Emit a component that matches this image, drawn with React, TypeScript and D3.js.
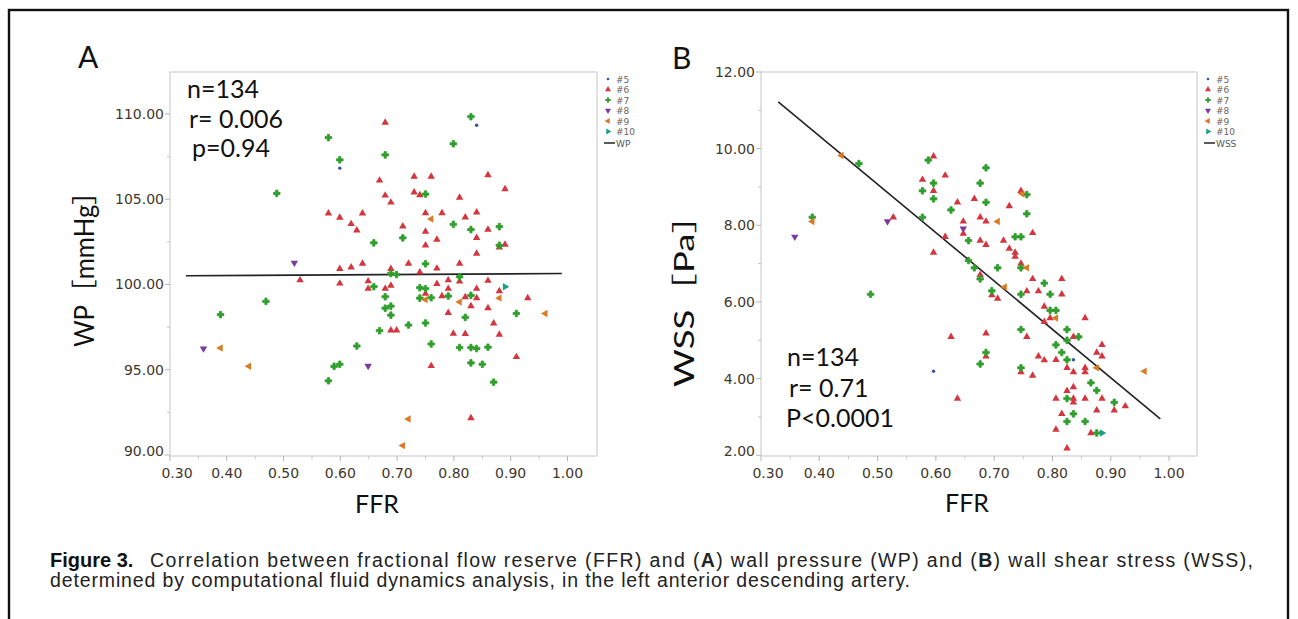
import React from "react";
import * as d3 from "d3";

type Pt = [number, number];

// axis ticks
const ffrTicks = [0.3, 0.4, 0.5, 0.6, 0.7, 0.8, 0.9, 1.0];
const ffrMinor = [0.35, 0.45, 0.55, 0.65, 0.75, 0.85, 0.95];
const wpTicks = [90, 95, 100, 105, 110];
const wpMinor = [92.5, 97.5, 102.5, 107.5];
const wssTicks = [2, 4, 6, 8, 10, 12];
const wssMinor = [3, 5, 7, 9, 11];

const groups = ["#5", "#6", "#7", "#8", "#9", "#10"];

// panel A: FFR vs wall pressure
const wp5: Pt[] = [[0.84, 109.34], [0.599, 106.82]];
const wp6: Pt[] = [
  [0.679, 109.49], [0.669, 106.1], [0.73, 106.33], [0.76, 106.33], [0.86, 106.41], [0.89, 105.59],
  [0.679, 105.22], [0.73, 105.4], [0.74, 105.24], [0.81, 105.09], [0.689, 104.81], [0.579, 104.17],
  [0.599, 103.92], [0.639, 104.17], [0.75, 104.19], [0.779, 104.19], [0.82, 103.94], [0.84, 104.23],
  [0.619, 103.55], [0.629, 103.18], [0.71, 103.41], [0.86, 103.22], [0.75, 103.1], [0.77, 102.63],
  [0.84, 102.73], [0.75, 102.3], [0.89, 102.34], [0.88, 102.18], [0.84, 101.81],
  [0.599, 100.92], [0.619, 101.01], [0.639, 101.23], [0.689, 100.92], [0.72, 101.23], [0.77, 100.94],
  [0.81, 101.23], [0.74, 100.72], [0.529, 100.25], [0.599, 100.06], [0.649, 100.19], [0.689, 99.94],
  [0.77, 100.04], [0.79, 100.25], [0.81, 100.18], [0.86, 100.22], [0.649, 99.75], [0.679, 99.75],
  [0.75, 99.46], [0.79, 99.75], [0.84, 99.75], [0.88, 99.61], [0.779, 99.32], [0.82, 99.26],
  [0.84, 99.2], [0.93, 99.2], [0.83, 98.73], [0.86, 98.61], [0.79, 98.34], [0.87, 97.72],
  [0.689, 97.31], [0.699, 97.31], [0.799, 97.12], [0.82, 97.1], [0.88, 97.06], [0.91, 95.75],
  [0.76, 95.22], [0.83, 92.16],
];
const wp7: Pt[] = [
  [0.83, 109.84], [0.579, 108.61], [0.799, 108.25], [0.599, 107.31], [0.679, 107.6], [0.488, 105.34],
  [0.75, 105.3], [0.799, 103.53], [0.83, 103.22], [0.88, 103.39], [0.71, 102.73], [0.659, 102.44],
  [0.88, 102.3], [0.75, 101.21], [0.689, 100.64], [0.699, 100.58], [0.81, 100.45], [0.659, 99.87],
  [0.74, 99.81], [0.75, 99.75], [0.679, 99.28], [0.74, 99.2], [0.76, 99.22], [0.79, 99.32],
  [0.83, 99.36], [0.469, 99.01], [0.679, 98.61], [0.689, 98.73], [0.389, 98.23], [0.689, 98.2],
  [0.91, 98.3], [0.82, 98.07], [0.75, 97.74], [0.72, 97.62], [0.669, 97.29], [0.76, 96.51],
  [0.629, 96.39], [0.81, 96.3], [0.83, 96.3], [0.84, 96.24], [0.86, 96.32], [0.589, 95.2],
  [0.599, 95.32], [0.83, 95.4], [0.85, 95.32], [0.579, 94.35], [0.87, 94.27],
];
const wp8: Pt[] = [[0.519, 101.27], [0.359, 96.24], [0.649, 95.22]];
const wp9: Pt[] = [
  [0.76, 103.84], [0.75, 99.11], [0.88, 99.2], [0.81, 98.97], [0.961, 98.3], [0.389, 96.27],
  [0.439, 95.2], [0.72, 92.11], [0.71, 90.55],
];
const wp10: Pt[] = [[0.89, 99.87]];
const wpFit: Pt[] = [[0.328, 100.51], [0.99, 100.64]];

// panel B: FFR vs wall shear stress
const wss5: Pt[] = [[0.836, 4.49], [0.596, 4.19]];
const wss6: Pt[] = [
  [0.596, 9.8], [0.616, 9.3], [0.577, 9.19], [0.596, 8.9], [0.746, 8.9], [0.637, 8.6], [0.666, 8.69],
  [0.726, 8.5], [0.527, 8.21], [0.647, 8.1], [0.647, 7.78], [0.676, 8.21], [0.686, 8.1], [0.616, 7.7],
  [0.676, 7.6], [0.686, 7.49], [0.716, 7.6], [0.766, 7.8], [0.726, 7.39], [0.736, 7.29], [0.736, 7.18],
  [0.596, 7.29], [0.746, 7.0], [0.676, 6.71], [0.766, 6.6], [0.816, 6.6], [0.756, 6.28], [0.776, 6.28],
  [0.816, 6.2], [0.696, 6.18], [0.706, 6.09], [0.786, 5.88], [0.796, 5.58], [0.856, 5.58], [0.786, 5.48],
  [0.626, 5.09], [0.686, 5.18], [0.756, 5.09], [0.836, 5.09], [0.885, 4.88], [0.686, 4.58], [0.876, 4.68],
  [0.885, 4.58], [0.776, 4.58], [0.786, 4.48], [0.806, 4.49], [0.825, 4.28], [0.856, 4.28], [0.746, 4.17],
  [0.766, 4.08], [0.836, 4.17], [0.856, 4.17], [0.836, 3.78], [0.825, 3.68], [0.637, 3.48], [0.806, 3.48],
  [0.836, 3.48], [0.836, 3.38], [0.856, 3.48], [0.885, 3.48], [0.925, 3.28], [0.906, 3.17], [0.876, 3.17],
  [0.816, 3.08], [0.806, 2.67], [0.866, 2.58], [0.825, 2.18],
];
const wss7: Pt[] = [
  [0.468, 9.61], [0.587, 9.7], [0.686, 9.5], [0.596, 9.1], [0.676, 9.1], [0.577, 8.9], [0.756, 8.8],
  [0.596, 8.69], [0.686, 8.6], [0.626, 8.4], [0.756, 8.3], [0.388, 8.21], [0.577, 8.21], [0.656, 7.6],
  [0.736, 7.7], [0.746, 7.7], [0.656, 7.08], [0.666, 6.89], [0.706, 6.89], [0.746, 6.89], [0.676, 6.6],
  [0.786, 6.49], [0.696, 6.29], [0.796, 6.2], [0.488, 6.2], [0.746, 6.2], [0.796, 5.78], [0.806, 5.78],
  [0.825, 5.28], [0.746, 5.28], [0.845, 5.09], [0.825, 5.0], [0.806, 4.88], [0.686, 4.68], [0.816, 4.68],
  [0.825, 4.49], [0.676, 4.38], [0.746, 4.28], [0.866, 3.89], [0.876, 3.69], [0.825, 3.48], [0.906, 3.38],
  [0.836, 3.08], [0.825, 2.88], [0.856, 2.88], [0.876, 2.58],
];
const wss8: Pt[] = [[0.517, 8.1], [0.647, 7.91], [0.358, 7.7]];
const wss9: Pt[] = [
  [0.438, 9.82], [0.748, 8.82], [0.388, 8.1], [0.706, 8.1], [0.756, 6.89], [0.718, 6.39], [0.806, 5.58],
  [0.876, 4.28], [0.958, 4.19],
];
const wss10: Pt[] = [[0.885, 2.58]];
const wssFit: Pt[] = [[0.3296, 11.22], [0.985, 2.95]];

const colors: Record<string, string> = {
  "#5": "#3553a8",
  "#6": "#d3363e",
  "#7": "#2f9e2c",
  "#8": "#7d3a9c",
  "#9": "#dc7a24",
  "#10": "#1b9e8a",
};

const tri = d3.symbol().type(d3.symbolTriangle).size(24)() as string;
const cross = d3.symbol().type(d3.symbolCross).size(24)() as string;
const dot = d3.symbol().type(d3.symbolCircle).size(9)() as string;
const shapes: Record<string, { d: string; rot: number; sw: number }> = {
  "#5": { d: dot, rot: 0, sw: 0 },
  "#6": { d: tri, rot: 0, sw: 0 },
  "#7": { d: cross, rot: 0, sw: 0.8 },
  "#8": { d: tri, rot: 180, sw: 0 },
  "#9": { d: tri, rot: -90, sw: 0 },
  "#10": { d: tri, rot: 90, sw: 0 },
};

const tickFont = "'DejaVu Sans', Verdana, sans-serif";
const tickColor = "#3f372c";
const labelFont = "Lato, 'Noto Sans CJK JP', sans-serif";

type PanelProps = {
  left: number;
  right: number;
  top: number;
  bottom: number;
  xDomain: [number, number];
  yDomain: [number, number];
  yTicks: number[];
  yMinor: number[];
  series: Pt[][];
  fit: Pt[];
  fitName: string;
};

function Panel(p: PanelProps) {
  const x = d3.scaleLinear().domain(p.xDomain).range([p.left, p.right]);
  const y = d3.scaleLinear().domain(p.yDomain).range([p.bottom, p.top]);
  const line = d3.line<Pt>().x((d) => x(d[0])).y((d) => y(d[1]));
  const legX = p.right + 11;
  const legY0 = p.top + 7;
  return (
    <g>
      <rect x={p.left} y={p.top} width={p.right - p.left} height={p.bottom - p.top} fill="#fff" stroke="#cfcfcf" strokeWidth={1.2} />
      {p.yTicks.map((t, i) => (
        <g key={"y" + t}>
          <line x1={p.left - 5} x2={p.left} y1={y(t)} y2={y(t)} stroke="#b5b5b5" />
          <text x={p.left - 6} y={y(t) + (i === 0 ? 1 : 5)} textAnchor="end" fontFamily={tickFont} fontSize={14} fill={tickColor}>
            {t.toFixed(2)}
          </text>
        </g>
      ))}
      {p.yMinor.map((t) => (
        <line key={"ym" + t} x1={p.left - 3} x2={p.left} y1={y(t)} y2={y(t)} stroke="#c4c4c4" />
      ))}
      {ffrTicks.map((t, i) => (
        <g key={"x" + t}>
          <line x1={x(t)} x2={x(t)} y1={p.bottom} y2={p.bottom + 5} stroke="#b5b5b5" />
          <text x={x(t) + (i === 0 ? 7 : 0)} y={p.bottom + 22} textAnchor="middle" fontFamily={tickFont} fontSize={14} fill={tickColor}>
            {t.toFixed(2)}
          </text>
        </g>
      ))}
      {ffrMinor.map((t) => (
        <line key={"xm" + t} x1={x(t)} x2={x(t)} y1={p.bottom} y2={p.bottom + 3} stroke="#c4c4c4" />
      ))}
      <path d={line(p.fit) as string} stroke="#222" strokeWidth={1.6} fill="none" />
      {p.series.map((pts, gi) =>
        pts.map((d, i) => {
          const s = shapes[groups[gi]];
          return (
            <path
              key={gi + "-" + i}
              d={s.d}
              transform={`translate(${x(d[0])},${y(d[1])}) rotate(${s.rot})`}
              fill={colors[groups[gi]]}
              stroke={colors[groups[gi]]}
              strokeWidth={s.sw}
              strokeLinejoin="round"
            />
          );
        })
      )}
      {groups.map((g, i) => (
        <g key={"leg" + g}>
          <path d={shapes[g].d} transform={`translate(${legX},${legY0 + i * 10.5}) rotate(${shapes[g].rot}) scale(0.8)`} fill={colors[g]} />
          <text x={legX + 8} y={legY0 + i * 10.5 + 3.5} fontFamily={tickFont} fontSize={9} fill="#666">
            {g}
          </text>
        </g>
      ))}
      <line x1={legX - 4} x2={legX + 7} y1={legY0 + 64} y2={legY0 + 64} stroke="#333" strokeWidth={1.6} />
      <text x={legX + 8} y={legY0 + 67.5} fontFamily={tickFont} fontSize={9} fill="#555">
        {p.fitName}
      </text>
    </g>
  );
}

export default function App() {
  return (
    <svg width={1298} height={619} style={{ position: "absolute", left: 0, top: 0, background: "#fff" }}>
      <rect x={0} y={0} width={1298} height={619} fill="#fff" />
      <rect x={9} y={10} width={1279} height={640} fill="none" stroke="#111" strokeWidth={2.4} />

      <Panel left={170} right={597} top={72} bottom={456} xDomain={[0.3, 1.052]} yDomain={[89.94, 112.46]}
        yTicks={wpTicks} yMinor={wpMinor} series={[wp5, wp6, wp7, wp8, wp9, wp10]} fit={wpFit} fitName="WP" />
      <Panel left={761} right={1197} top={72} bottom={456} xDomain={[0.3, 1.048]} yDomain={[1.98, 12.0]}
        yTicks={wssTicks} yMinor={wssMinor} series={[wss5, wss6, wss7, wss8, wss9, wss10]} fit={wssFit} fitName="WSS" />

      <text x={78} y={68} fontFamily={labelFont} fontSize={30} fill="#111">A</text>
      <text x={672} y={69} fontFamily={labelFont} fontSize={30} fill="#111">B</text>

      <g fontFamily={labelFont} fontSize={25} fill="#111">
        <text x={187} y={98}>n=134</text>
        <text x={189} y={128}>r= 0.006</text>
        <text x={192} y={157}>p=0.94</text>
        <text x={787} y={366}>n=134</text>
        <text x={789} y={397}>r= 0.71</text>
        <text x={786} y={427}>P&lt;0.0001</text>
      </g>

      <g fontFamily={labelFont} fontSize={26} fill="#111">
        <text x={377} y={513} textAnchor="middle" fontSize={25}>FFR</text>
        <text x={967} y={512} textAnchor="middle" fontSize={25}>FFR</text>
        <text transform="translate(94,263) rotate(-90)" textAnchor="middle" textLength={168} lengthAdjust="spacingAndGlyphs">WP［mmHg］</text>
        <text transform="translate(694,292) rotate(-90)" textAnchor="middle" textLength={190} lengthAdjust="spacingAndGlyphs">WSS［Pa］</text>
      </g>

      <g fontFamily="'Liberation Sans', Arial, sans-serif" fontSize={19.5} fill="#222">
        <text x={50} y={567} fontFamily="'Liberation Sans Narrow', 'Liberation Sans', sans-serif" fontWeight="bold" fontSize={20} fill="#111">Figure 3.</text>
        <text x={150} y={567} textLength={1103} lengthAdjust="spacing">
          Correlation between fractional flow reserve (FFR) and (<tspan fontWeight="bold">A</tspan>) wall pressure (WP) and (<tspan fontWeight="bold">B</tspan>) wall shear stress (WSS),
        </text>
        <text x={50} y={587} textLength={860} lengthAdjust="spacing">
          determined by computational fluid dynamics analysis, in the left anterior descending artery.
        </text>
      </g>
    </svg>
  );
}
